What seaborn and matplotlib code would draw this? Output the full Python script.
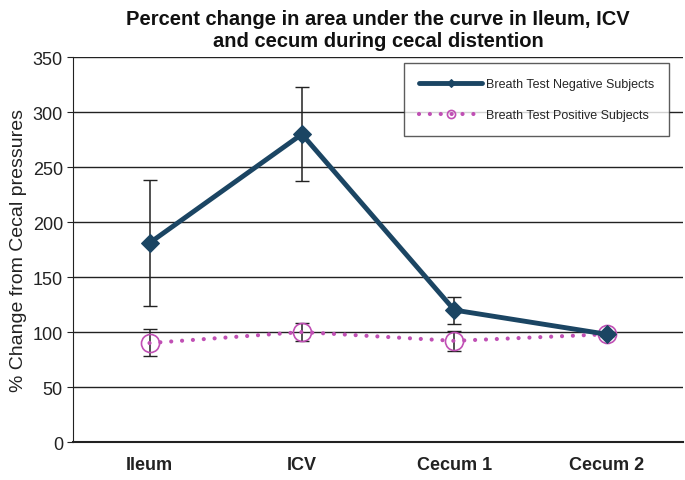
import numpy as np
import pandas as pd
import matplotlib
matplotlib.use("Agg")
import matplotlib.pyplot as plt
import seaborn as sns

sites = ["Ileum", "ICV", "Cecum 1", "Cecum 2"]
neg_vals = [181, 280, 120, 98]
neg_upper = [238, 323, 132, 100]
neg_lower = [124, 237, 107, 96]
pos_vals = [90, 100, 92, 98]
pos_upper = [103, 108, 101, 100]
pos_lower = [78, 92, 83, 96]

neg_color = "#1B4563"
pos_color = "#C04FB4"

sns.set_style("white")
plt.rcParams['font.family'] = ['Liberation Sans', 'DejaVu Sans']

fig = plt.figure(figsize=(6.85, 4.81), dpi=100)
ax = fig.add_axes([0.107, 0.079, 0.89, 0.8])

x = np.arange(len(sites))

# error bars first so the markers sit on top
ax.errorbar(x, neg_vals,
            yerr=[np.array(neg_vals) - neg_lower, np.array(neg_upper) - neg_vals],
            fmt="none", ecolor="#222222", elinewidth=1.1, capsize=5, zorder=2)
ax.errorbar(x, pos_vals,
            yerr=[np.array(pos_vals) - pos_lower, np.array(pos_upper) - pos_vals],
            fmt="none", ecolor="#222222", elinewidth=1.1, capsize=5, zorder=2)

sns.lineplot(x=x, y=neg_vals, ax=ax, color=neg_color, lw=3.5, marker="D",
             markersize=9, markeredgecolor=neg_color,
             label="Breath Test Negative Subjects", zorder=4)
sns.lineplot(x=x, y=pos_vals, ax=ax, color=pos_color, lw=3, linestyle=(0, (0.01, 2.6)),
             dash_capstyle="round", marker="o", markersize=13, markerfacecolor="none",
             markeredgecolor=pos_color, markeredgewidth=1.2,
             label="Breath Test Positive Subjects", zorder=3)

ax.set_xlim(-0.5, 3.5)
ax.set_ylim(0, 350)
ax.set_yticks(range(0, 351, 50))
ax.set_xticks(x)
ax.set_xticklabels(sites, fontsize=13, fontweight="bold", color="#222222")
ax.tick_params(axis="y", labelsize=13, colors="#222222", length=4, direction="out", left=True)
ax.tick_params(axis="x", length=0, pad=10)
ax.yaxis.grid(True, color="#222222", lw=1)
ax.set_axisbelow(True)

for s in ["top", "right"]:
    ax.spines[s].set_visible(False)
ax.spines["left"].set_color("#222222")
ax.spines["bottom"].set_color("#222222")
ax.spines["bottom"].set_linewidth(1.5)

ax.set_ylabel("% Change from Cecal pressures", fontsize=14, color="#222222")
ax.set_title("Percent change in area under the curve in Ileum, ICV\nand cecum during cecal distention",
             fontsize=14.5, fontweight="bold", color="#111111", pad=8)

leg = ax.legend(loc="upper right", bbox_to_anchor=(0.977, 0.984), fontsize=9,
                frameon=True, fancybox=False, edgecolor="#333333", markerscale=0.45,
                borderpad=1.2, labelspacing=1.5, handlelength=5, handletextpad=0.3,
                borderaxespad=0)
leg.get_frame().set_linewidth(1.0)

fig.savefig("out.png", dpi=100)
